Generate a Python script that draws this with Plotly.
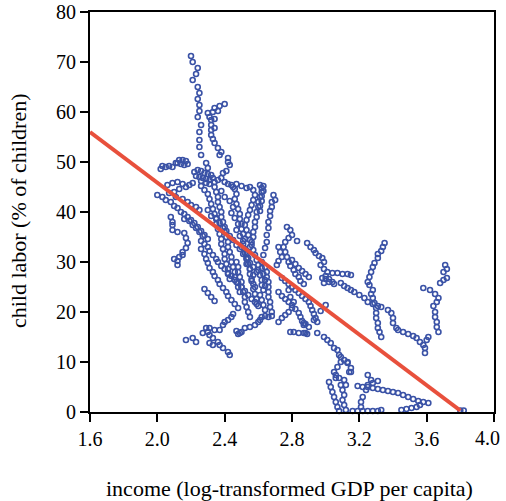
import plotly.graph_objects as go

# ---- data ----
a_x = [2.20,2.21,2.24,2.23,2.21,2.24,2.25,2.24,2.25,2.25,2.24,2.26,2.25,2.25,2.25,2.26,2.29,2.30]
a_y = [71.2,70.0,68.8,67.6,66.4,65.0,63.8,62.6,61.4,60.2,59.0,57.4,56.0,54.4,53.0,51.4,49.8,48.8]
b_x = [2.40,2.37,2.34,2.36,2.33,2.30,2.31,2.34,2.32,2.32,2.34,2.32,2.32,2.33,2.34,2.36,2.38,2.37,2.42,2.42,2.43,2.41,2.39]
b_y = [61.6,61.2,60.8,60.2,60.0,59.8,59.0,58.6,58.4,57.4,56.8,56.4,55.4,54.6,53.8,52.8,52.0,51.4,50.8,50.0,49.4,48.2,47.8]
c_x = [2.02,2.03,2.05,2.07,2.09,2.11,2.13,2.15,2.17,2.18,2.16,2.14,2.12]
c_y = [48.6,49.2,49.0,49.2,49.0,49.8,50.4,50.4,50.2,49.6,49.4,49.6,49.8]
d_x = [2.22,2.24,2.26,2.28,2.30,2.32,2.33,2.31,2.29,2.27,2.25,2.23,2.26,2.29,2.31,2.34,2.36,2.38]
d_y = [48.0,48.4,48.2,47.8,47.6,47.4,46.8,46.4,46.6,46.8,47.0,47.2,46.2,45.8,45.6,46.0,46.4,46.8]
e_x = [2.00,2.03,2.05,2.08,2.10,2.12,2.14,2.16,2.18,2.20,2.22,2.24,2.26,2.28,2.30]
e_y = [43.4,43.0,42.4,42.0,41.2,40.8,40.0,39.6,39.0,38.4,37.8,37.0,36.2,35.4,34.6]
f_x = [2.06,2.09,2.12,2.15,2.17,2.19,2.21,2.13,2.10,2.07,2.11,2.15,2.18,2.20,2.23,2.25]
f_y = [45.4,45.8,46.0,45.6,45.0,45.4,45.8,44.6,44.0,43.8,43.0,42.6,42.0,41.4,41.0,40.4]
g_x = [2.08,2.09,2.09,2.09,2.12,2.16,2.17,2.18,2.17,2.15,2.15,2.13,2.12,2.10,2.12]
g_y = [39.0,38.0,37.4,36.4,36.0,35.8,34.8,33.8,32.8,32.0,31.4,31.0,30.2,30.6,29.4]
h_x = [2.16,2.19,2.21,2.23,2.25,2.27,2.26,2.28,2.30,2.31,2.33,2.35]
h_y = [38.6,38.2,37.4,36.8,36.0,35.2,34.2,33.6,33.0,32.2,31.4,30.6]
i1_x = [2.17,2.21,2.23]
i1_y = [14.4,14.8,14.0]
i2_x = [2.27,2.30,2.31,2.34,2.37,2.39,2.40,2.42,2.44,2.45]
i2_y = [15.8,16.0,16.8,16.4,16.4,17.4,18.0,18.4,19.0,19.6]
i3_x = [2.29,2.31,2.33,2.36,2.37,2.39,2.42,2.43,2.31,2.33]
i3_y = [16.8,15.4,14.8,14.0,13.4,12.8,12.0,11.4,13.8,13.4]
i4_x = [2.47,2.48,2.50,2.49,2.52,2.55,2.58,2.60,2.61,2.62,2.64,2.66,2.68]
i4_y = [16.2,15.6,16.0,15.8,16.8,17.0,17.4,18.0,18.4,19.0,19.2,19.0,19.2]
j_x = [2.34,2.35,2.36,2.36,2.37,2.38,2.38,2.39,2.40,2.40,2.41,2.42,2.42,2.43,2.44,2.44,2.45,2.46,2.46,2.47,2.48,2.49]
j_y = [45.0,44.0,43.0,42.0,41.0,40.0,39.0,38.0,37.0,36.0,35.0,34.0,33.0,32.0,31.0,30.0,29.0,28.0,27.0,26.0,25.0,24.0]
k_x = [2.44,2.46,2.47,2.46,2.47,2.48,2.49,2.49,2.50,2.50,2.51,2.52,2.51,2.52,2.53,2.53,2.54,2.55,2.55,2.56,2.57,2.57,2.58,2.59,2.59]
k_y = [45.4,44.6,43.6,42.6,41.6,40.6,39.6,38.6,37.6,36.6,35.6,34.6,33.6,32.6,31.6,30.6,29.6,28.6,27.6,26.6,25.6,24.6,23.6,22.6,21.6]
l_x = [2.61,2.62,2.62,2.61,2.60,2.60,2.59,2.59,2.58,2.58,2.57,2.57,2.56,2.55,2.63,2.63,2.62,2.62,2.61,2.61]
l_y = [45.4,44.8,44.0,43.0,42.0,41.0,40.0,39.0,38.0,37.0,36.0,35.0,34.0,33.0,45.2,44.2,43.2,42.2,41.2,40.2]
m_x = [2.69,2.70,2.68,2.68,2.67,2.67,2.66,2.66,2.65,2.65,2.64,2.63,2.62,2.62,2.63,2.64,2.64]
m_y = [43.4,42.4,42.0,41.0,40.2,39.2,38.0,36.8,35.4,34.0,32.8,31.4,30.0,28.8,27.6,26.4,25.2]
n_x = [2.77,2.79,2.80,2.78,2.76,2.75,2.76,2.77,2.78,2.79,2.81,2.82,2.84,2.83]
n_y = [37.0,36.4,35.4,34.8,34.0,33.0,32.0,31.0,30.0,29.2,28.4,27.6,27.0,34.2]
o_x = [2.89,2.91,2.93,2.94,2.96,2.98,2.99,2.97,2.99,3.01,3.04,3.07,3.10,3.13,3.15]
o_y = [33.8,33.0,32.4,31.8,31.2,30.8,30.0,29.4,28.6,28.0,27.8,27.8,27.6,27.6,27.4]
p_x = [3.00,3.02,3.05,3.09,3.11,3.13,3.15,3.17,3.20,3.23,3.25,3.28,3.31,3.33,3.37,3.39,3.40,3.40,3.42,3.43,3.46,3.49,3.52,3.54,3.56,3.58,3.59,3.59,3.61,3.60]
p_y = [26.6,26.0,25.6,25.8,25.2,24.8,24.4,24.0,23.4,22.8,22.0,21.6,21.2,21.0,20.4,19.8,18.8,17.8,16.8,16.4,16.0,15.6,15.2,14.8,14.0,13.4,12.8,11.8,15.0,14.4]
q_x = [3.35,3.34,3.33,3.31,3.31,3.29,3.28,3.27,3.26,3.25,3.26,3.28,3.27,3.28,3.29,3.30,3.30,3.30,3.31,3.31,3.32,3.33]
q_y = [33.8,33.0,32.2,31.6,30.8,29.8,29.0,28.0,27.0,26.0,25.4,24.4,23.6,22.8,21.8,20.8,19.8,18.8,17.8,16.8,16.0,15.0]
r_x = [3.71,3.72,3.70,3.72,3.70,3.68,3.58,3.62,3.65,3.67,3.66,3.64,3.65,3.65,3.66,3.66,3.67]
r_y = [29.4,28.6,28.0,26.8,26.4,25.8,24.8,24.4,23.6,22.8,22.0,21.2,20.0,19.0,18.0,17.0,16.0]
s_x = [2.87,2.88,2.90,2.93,2.95,2.99,3.01,3.03,3.05,3.07,3.08,3.09,3.11,3.13,3.15,3.14,3.00,2.97]
s_y = [17.8,15.8,17.0,18.4,15.8,15.0,14.4,13.8,12.8,12.4,11.4,11.0,10.4,10.0,8.8,8.0,21.4,20.2]
t_x = [3.05,3.06,3.07,3.09,3.13,3.15,3.11,3.12,3.10,3.11,3.10,3.11,3.12,3.02,3.03,3.04,3.05,3.06,3.07,3.08,3.06,3.08,3.09]
t_y = [8.0,7.4,9.0,10.0,9.8,8.0,6.4,5.4,4.4,3.4,2.4,1.4,0.4,6.0,5.0,4.0,3.0,2.0,1.0,0.2,6.8,6.8,5.4]
u_x = [3.25,3.27,3.25,3.24,3.22,3.21,3.21,3.28,3.31]
u_y = [7.4,6.4,5.4,4.4,3.0,2.0,1.0,5.8,6.2]
v_x = [3.19,3.22,3.25,3.28,3.31,3.34,3.37,3.40,3.43,3.46,3.49,3.52,3.55,3.58,3.61]
v_y = [5.2,5.0,5.0,4.8,4.6,4.4,4.2,4.0,3.8,3.4,3.0,2.6,2.2,2.0,1.8]
w_x = [3.16,3.19,3.22,3.25,3.28,3.31,3.33,3.45,3.48,3.51,3.54,3.56,3.80,3.82]
w_y = [0.2,0.2,0.2,0.2,0.2,0.2,0.4,0.4,0.6,0.8,1.0,1.4,0.3,0.3]
x1_x = [2.74,2.76,2.78,2.80,2.82,2.84,2.86,2.88,2.90,2.91,2.92,2.93,2.94,2.95]
x1_y = [26.8,26.2,25.6,25.0,24.4,23.8,23.2,22.6,22.0,21.2,20.4,19.6,18.8,18.0]
x2_x = [2.72,2.74,2.76,2.78,2.80,2.82,2.84,2.85,2.86,2.87]
x2_y = [24.0,23.2,22.6,22.0,21.4,20.6,19.8,19.0,18.2,17.4]
x3_x = [2.78,2.79,2.81,2.80,2.78,2.76,2.74,2.72,2.79,2.81,2.84,2.87,2.89,2.88]
x3_y = [24.4,23.0,22.0,20.8,20.0,19.4,18.8,18.0,16.0,16.0,15.8,15.8,15.6,17.6]
z1_x = [2.26,2.28,2.29,2.30,2.31,2.33,2.34,2.36,2.37,2.39,2.41,2.42,2.44,2.46,2.48]
z1_y = [32.6,31.6,30.6,29.8,28.8,28.0,27.2,26.4,25.6,24.8,24.0,23.2,22.4,21.6,20.8]
z2_x = [2.28,2.30,2.32,2.34]
z2_y = [24.6,23.8,23.0,22.2]
aa_x = [2.40,2.42,2.45,2.47,2.50,2.53,2.55,2.57,2.58,2.57,2.56,2.55,2.54,2.53,2.52,2.53,2.54,2.55,2.56,2.57,2.58,2.59,2.60,2.60,2.61,2.62,2.62,2.63,2.61,2.62,2.63,2.64]
aa_y = [46.0,45.6,45.0,45.6,45.2,44.8,45.0,44.4,43.4,42.4,41.4,40.4,39.4,38.4,37.4,36.4,35.4,34.4,33.4,32.4,31.4,30.4,29.4,28.4,27.4,26.4,25.4,24.4,23.4,22.4,21.4,20.4]
ab_x = [2.26,2.28,2.30,2.31,2.32,2.33,2.34,2.35,2.35,2.36,2.37,2.38,2.38,2.39,2.40,2.40,2.41,2.42,2.42,2.43]
ab_y = [45.2,44.4,43.6,42.6,41.6,40.6,39.6,38.6,37.6,36.6,35.6,34.6,33.6,32.6,31.6,30.6,29.6,28.6,27.6,26.6]
ac_x = [2.47,2.48,2.48,2.49,2.50,2.50,2.51,2.52,2.52,2.53,2.54,2.55]
ac_y = [30.0,29.0,28.0,27.0,26.0,25.0,24.0,23.0,22.0,21.0,20.0,19.0]
af_x = [2.98,3.00,3.02,3.04,2.99]
af_y = [26.8,27.2,26.6,26.0,25.8]
ag_x = [2.64,2.65,2.65,2.66,2.66,2.66,2.66,2.67,2.67,2.68]
ag_y = [29.0,28.0,27.0,26.0,25.0,24.0,23.0,22.0,21.0,20.0]
ai_x = [2.80,2.82,2.84,2.86,2.88,2.90,2.85,2.87]
ai_y = [30.4,29.6,28.8,28.2,27.6,27.0,26.2,25.6]
aj_x = [2.72,2.73,2.74,2.72,2.71]
aj_y = [33.0,32.0,31.0,30.2,29.4]
ak_x = [2.38,2.40,2.43,2.45,2.44,2.46,2.48,2.47,2.49,2.51,2.50,2.52,2.54,2.53,2.55,2.57,2.56,2.58]
ak_y = [44.2,43.0,42.2,41.0,39.8,38.8,37.6,36.4,35.2,34.2,33.0,31.8,30.8,29.6,28.6,27.4,26.2,25.0]
al_x = [2.30,2.32,2.35,2.37,2.39,2.41,2.43,2.45,2.47,2.49,2.51,2.53,2.55,2.57,2.59]
al_y = [40.4,39.2,38.8,37.8,36.8,36.2,35.2,34.4,33.4,32.6,31.6,30.8,29.8,29.0,28.0]
am_x = [2.36,2.38,2.40,2.42,2.44,2.46,2.48,2.50,2.52,2.54,2.56,2.58,2.60]
am_y = [30.0,29.2,28.6,27.8,27.2,26.4,25.8,25.0,24.2,23.4,22.6,22.0,21.2]

fit_x = [1.6, 3.80]
fit_y = [56.0, 0.3]

x_ticks = [1.6, 2.0, 2.4, 2.8, 3.2, 3.6, 4.0]
y_ticks = [0, 10, 20, 30, 40, 50, 60, 70, 80]

xs_list = [a_x,b_x,c_x,d_x,e_x,f_x,g_x,h_x,i1_x,i2_x,i3_x,i4_x,j_x,k_x,l_x,m_x,n_x,o_x,p_x,q_x,r_x,s_x,t_x,u_x,v_x,w_x,
           x1_x,x2_x,x3_x,z1_x,z2_x,aa_x,ab_x,ac_x,af_x,ag_x,ai_x,aj_x,ak_x,al_x,am_x]
ys_list = [a_y,b_y,c_y,d_y,e_y,f_y,g_y,h_y,i1_y,i2_y,i3_y,i4_y,j_y,k_y,l_y,m_y,n_y,o_y,p_y,q_y,r_y,s_y,t_y,u_y,v_y,w_y,
           x1_y,x2_y,x3_y,z1_y,z2_y,aa_y,ab_y,ac_y,af_y,ag_y,ai_y,aj_y,ak_y,al_y,am_y]
all_x, all_y = [], []
for xs, ys in zip(xs_list, ys_list):
    all_x += xs
    all_y += ys

BLUE = "#3a52a6"
RED = "#e8503c"
FONT = "Liberation Serif"

fig = go.Figure()
fig.add_trace(go.Scatter(
    x=all_x, y=all_y, mode="markers", cliponaxis=False,
    marker=dict(symbol="circle-open", size=5, color=BLUE, line=dict(width=1.6, color=BLUE)),
    showlegend=False, hoverinfo="skip"))
fig.add_trace(go.Scatter(
    x=fit_x, y=fit_y, mode="lines", line=dict(color=RED, width=4),
    showlegend=False, hoverinfo="skip"))

axis_common = dict(showline=True, linecolor="black", linewidth=2, mirror=True,
                   ticks="outside", ticklen=8, tickwidth=1.5, tickcolor="black",
                   showgrid=False, zeroline=False, automargin=False,
                   tickfont=dict(family=FONT, size=20, color="black"))
# last x label is drawn as an annotation so it can sit fully inside the page
x_ticktext = [f"{v:.1f}" for v in x_ticks[:-1]] + [""]
fig.update_xaxes(range=[1.6, 4.0], tickvals=x_ticks, ticktext=x_ticktext, **axis_common)
fig.update_yaxes(range=[0, 80], tickvals=y_ticks, ticktext=[str(v) for v in y_ticks], **axis_common)

fig.update_layout(
    width=506, height=501,
    margin=dict(l=90, r=12, t=12, b=89, autoexpand=False),
    paper_bgcolor="white", plot_bgcolor="white",
    font=dict(family=FONT, color="black"),
    annotations=[
        dict(text=f"{x_ticks[-1]:.1f}", xref="paper", yref="paper",
             x=0.985, y=-0.066, xanchor="center", yanchor="middle", showarrow=False,
             font=dict(family=FONT, size=20, color="black")),
        dict(text="income (log-transformed GDP per capita)", xref="paper", yref="paper",
             x=0.495, y=-0.19, xanchor="center", yanchor="middle", showarrow=False,
             font=dict(family=FONT, size=22, color="black")),
        dict(text="child labor (% of children)", xref="paper", yref="paper",
             x=-0.178, y=0.5025, xanchor="center", yanchor="middle", textangle=-90, showarrow=False,
             font=dict(family=FONT, size=22, color="black")),
    ],
)

fig.write_html("out.html")
